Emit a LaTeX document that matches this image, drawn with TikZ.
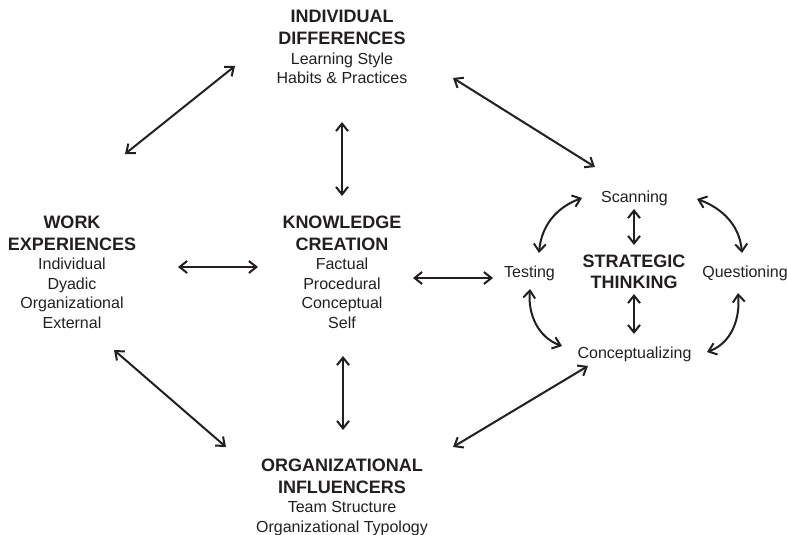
\documentclass[tikz,border=0pt]{standalone}
\usepackage{fontspec}
\setmainfont{Liberation Sans}
\usetikzlibrary{arrows.meta}
\definecolor{ink}{HTML}{231F20}
\newcommand\hd[1]{{\bfseries\fontsize{18}{19.5}\selectfont #1}}
\tikzset{
  grp/.style={anchor=base, inner sep=0pt, text=ink, font=\fontsize{16}{19.5}\selectfont},
  lbl/.style={anchor=base, inner sep=0pt, text=ink, font=\fontsize{16}{19.5}\selectfont},
  barb/.tip={Straight Barb[length=7.5pt,width=12pt]},
  link/.style={draw=ink, line width=2pt, barb-barb},
}
\begin{document}
\begin{tikzpicture}[x=1pt,y=-1pt]
\useasboundingbox (0,0) rectangle (787,535);

% main groups
\node[grp] (id) at (342,23) {\begin{tabular}[t]{@{}c@{}}\hd{INDIVIDUAL}\\[2.5pt] \hd{DIFFERENCES}\\ Learning Style\\ Habits \& Practices\end{tabular}};
\node[grp] (we) at (72,228) {\begin{tabular}[t]{@{}c@{}}\hd{WORK}\\[2.5pt] \hd{EXPERIENCES}\\ Individual\\ Dyadic\\ Organizational\\ External\end{tabular}};
\node[grp] (kc) at (342,228) {\begin{tabular}[t]{@{}c@{}}\hd{KNOWLEDGE}\\[2.5pt] \hd{CREATION}\\ Factual\\ Procedural\\ Conceptual\\ Self\end{tabular}};
\node[grp] (oi) at (342,471) {\begin{tabular}[t]{@{}c@{}}\hd{ORGANIZATIONAL}\\[2.5pt] \hd{INFLUENCERS}\\ Team Structure\\ Organizational Typology\end{tabular}};
\node[grp] (st) at (634,267) {\begin{tabular}[t]{@{}c@{}}\hd{STRATEGIC}\\[1.5pt] \hd{THINKING}\end{tabular}};

% strategic thinking activities
\node[lbl] (sc) at (634.5,202) {Scanning};
\node[lbl] (te) at (529.5,277) {Testing};
\node[lbl] (qu) at (745,277) {Questioning};
\node[lbl] (co) at (634.5,358) {Conceptualizing};

% connector end points
\coordinate (id-we-a) at (235,66);   \coordinate (id-we-b) at (125,154);
\coordinate (id-st-a) at (453,78);   \coordinate (id-st-b) at (595,167);
\coordinate (id-kc-a) at (342,122);  \coordinate (id-kc-b) at (342,196);
\coordinate (we-kc-a) at (178,267);  \coordinate (we-kc-b) at (258,267);
\coordinate (kc-te-a) at (413,278);  \coordinate (kc-te-b) at (493,278);
\coordinate (kc-oi-a) at (343,356);  \coordinate (kc-oi-b) at (343,430);
\coordinate (we-oi-a) at (114,350);  \coordinate (we-oi-b) at (226,447);
\coordinate (oi-co-a) at (453,447);  \coordinate (oi-co-b) at (588,366);

\coordinate (sc-st-a) at (634,209);  \coordinate (sc-st-b) at (634,245);
\coordinate (st-co-a) at (634,294);  \coordinate (st-co-b) at (634,334);
\coordinate (te-sc-a) at (539,253);  \coordinate (te-sc-b) at (582,198);
\coordinate (sc-qu-a) at (697,199);  \coordinate (sc-qu-b) at (742,253);
\coordinate (te-co-a) at (530,289);  \coordinate (te-co-b) at (562,346);
\coordinate (qu-co-a) at (738,293);  \coordinate (qu-co-b) at (707,352);

% straight links between groups
\draw[link] (id-we-a) -- (id-we-b);
\draw[link] (id-st-a) -- (id-st-b);
\draw[link] (id-kc-a) -- (id-kc-b);
\draw[link] (we-kc-a) -- (we-kc-b);
\draw[link] (kc-te-a) -- (kc-te-b);
\draw[link] (kc-oi-a) -- (kc-oi-b);
\draw[link] (we-oi-a) -- (we-oi-b);
\draw[link] (oi-co-a) -- (oi-co-b);

% strategic thinking cycle
\draw[link] (sc-st-a) -- (sc-st-b);
\draw[link] (st-co-a) -- (st-co-b);
\draw[link] (te-sc-a) to[out=85,in=200] (te-sc-b);
\draw[link] (sc-qu-a) to[out=-20,in=95] (sc-qu-b);
\draw[link] (te-co-a) to[out=-95,in=160] (te-co-b);
\draw[link] (qu-co-a) to[out=-85,in=20] (qu-co-b);
\end{tikzpicture}
\end{document}
